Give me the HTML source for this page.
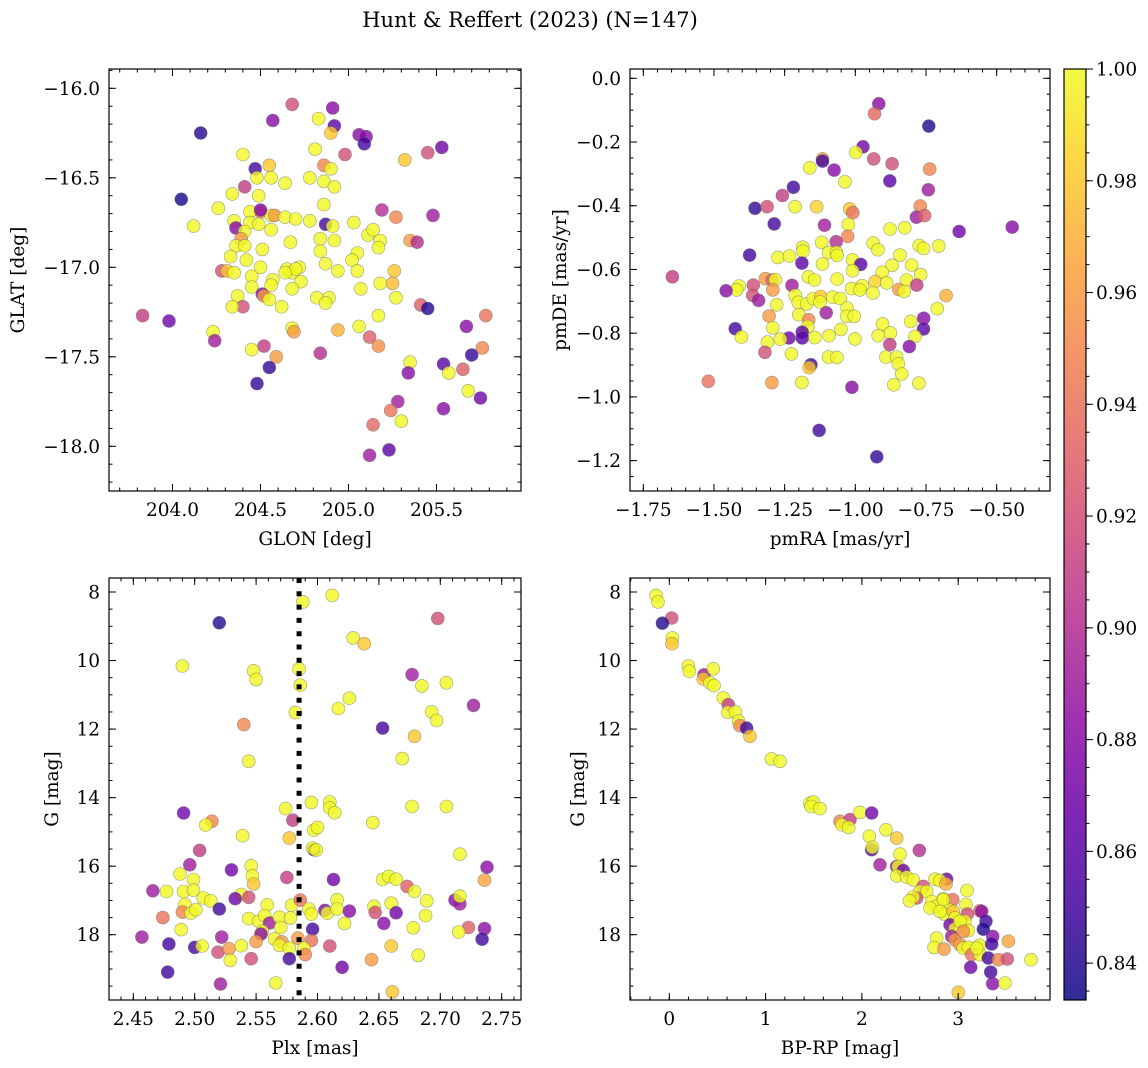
<!DOCTYPE html>
<html><head><meta charset="utf-8">
<style>
html,body{margin:0;padding:0;background:#fff;}
svg{display:block;font-family:"DejaVu Serif","Liberation Serif",serif;}
</style></head>
<body>
<svg id="fig" width="1148" height="1068" viewBox="0 0 1148 1068" xmlns="http://www.w3.org/2000/svg">
<text x="530" y="27" font-size="21" text-anchor="middle">Hunt &amp; Reffert (2023) (N=147)</text>
</svg>
<script>
// ---------- Panel 1: GLON vs GLAT ----------
const p1Lon=[204.68,204.91,204.57,204.83,204.92,204.90,204.16,205.06,205.10,205.09,205.53,205.45,204.98,205.32,204.40,204.81,204.47,204.55,204.86,204.90,204.48,204.56,204.41,204.64,204.78,204.86,204.92,204.34,204.49,204.05,204.86,204.26,204.12,204.50,204.44,204.56,204.58,204.64,204.70,204.78,204.87,204.91,205.03,204.35,204.36,204.44,204.49,204.56,204.41,204.39,204.36,204.41,204.51,204.67,204.84,204.92,205.11,205.14,205.18,205.17,205.27,205.19,205.48,205.35,205.39,204.84,204.33,204.42,205.05,205.02,204.87,204.28,204.31,204.35,204.50,204.65,204.68,204.72,204.94,205.05,205.26,204.45,204.57,204.73,204.56,204.68,204.45,205.18,205.25,205.07,204.51,204.52,204.55,204.37,204.82,204.89,204.87,205.27,204.40,204.34,204.62,205.41,205.45,203.83,203.98,205.17,205.78,205.67,204.23,204.24,204.68,204.69,204.94,205.06,205.12,205.17,204.52,204.45,204.84,204.59,205.76,205.70,205.35,205.34,205.54,205.57,205.65,204.55,204.48,205.68,205.75,205.54,205.28,205.24,205.30,205.14,205.23,205.12,204.70,204.64,204.50];
const p1Lat=[-16.09,-16.11,-16.18,-16.17,-16.21,-16.25,-16.25,-16.26,-16.27,-16.31,-16.33,-16.36,-16.37,-16.40,-16.37,-16.34,-16.45,-16.43,-16.43,-16.45,-16.50,-16.50,-16.55,-16.53,-16.50,-16.52,-16.55,-16.59,-16.60,-16.62,-16.65,-16.67,-16.77,-16.69,-16.69,-16.71,-16.71,-16.72,-16.73,-16.74,-16.76,-16.77,-16.75,-16.74,-16.78,-16.75,-16.76,-16.79,-16.80,-16.84,-16.88,-16.88,-16.90,-16.86,-16.84,-16.85,-16.82,-16.79,-16.85,-16.89,-16.72,-16.68,-16.71,-16.85,-16.86,-16.91,-16.94,-16.96,-16.92,-16.96,-16.98,-17.02,-17.02,-17.03,-17.00,-17.01,-17.03,-17.00,-17.02,-17.02,-17.02,-17.05,-17.07,-17.08,-17.10,-17.12,-17.11,-17.09,-17.09,-17.12,-17.15,-17.16,-17.18,-17.16,-17.17,-17.17,-17.20,-17.17,-17.22,-17.22,-17.22,-17.21,-17.23,-17.27,-17.30,-17.27,-17.27,-17.33,-17.36,-17.41,-17.34,-17.36,-17.35,-17.33,-17.39,-17.44,-17.44,-17.46,-17.48,-17.50,-17.45,-17.49,-17.53,-17.59,-17.54,-17.59,-17.57,-17.56,-17.65,-17.69,-17.73,-17.79,-17.75,-17.80,-17.86,-17.88,-18.02,-18.05,-17.01,-17.03,-16.68];
const p1Prob=[0.92,0.88,0.88,1.0,0.86,0.98,0.84,0.88,0.88,0.85,0.87,0.92,0.92,0.98,1.0,1.0,0.85,0.98,0.95,1.0,1.0,1.0,0.91,1.0,1.0,1.0,1.0,1.0,1.0,0.835,1.0,1.0,1.0,0.95,1.0,1.0,0.96,1.0,1.0,1.0,0.85,1.0,1.0,1.0,0.88,1.0,1.0,1.0,1.0,0.96,1.0,1.0,1.0,1.0,1.0,1.0,1.0,1.0,1.0,1.0,0.95,0.90,0.89,0.96,0.90,1.0,1.0,1.0,1.0,1.0,1.0,0.92,0.98,1.0,1.0,1.0,1.0,1.0,1.0,1.0,0.98,1.0,1.0,1.0,1.0,1.0,1.0,1.0,0.975,1.0,0.88,0.96,1.0,1.0,1.0,1.0,1.0,1.0,0.92,1.0,1.0,0.93,0.84,0.91,0.87,1.0,0.94,0.88,1.0,0.89,1.0,0.96,0.97,1.0,0.93,0.955,0.91,1.0,0.90,0.96,0.95,0.845,1.0,0.88,0.86,1.0,0.93,0.845,0.845,1.0,0.87,0.88,0.89,0.94,1.0,0.935,0.86,0.89,1.0,1.0,0.88];

// ---------- Panel 2: pmRA vs pmDE ----------
const p2Ra=[-0.917,-0.932,-0.740,-0.973,-0.998,-1.116,-1.116,-0.935,-0.870,-0.737,-1.161,-1.075,-1.037,-0.878,-0.742,-1.219,-1.258,-1.355,-1.312,-1.213,-1.137,-1.020,-1.009,-0.770,-0.784,-0.755,-1.287,-1.109,-1.025,-1.027,-0.877,-0.825,-0.633,-0.445,-1.119,-1.068,-1.186,-1.185,-0.937,-0.920,-0.774,-0.759,-0.705,-1.374,-1.274,-1.233,-1.095,-1.067,-1.064,-1.189,-1.116,-1.010,-0.981,-1.010,-0.842,-0.870,-0.801,-0.905,-0.769,-1.647,-1.318,-1.294,-1.283,-1.292,-1.166,-1.144,-1.064,-0.930,-0.889,-0.819,-0.783,-1.361,-1.411,-1.420,-1.457,-1.224,-1.363,-1.342,-1.213,-1.202,-1.172,-1.149,-1.123,-1.125,-1.080,-1.053,-1.013,-0.976,-0.984,-0.938,-0.846,-0.827,-0.679,-1.278,-0.710,-1.029,-1.031,-1.004,-1.103,-1.305,-1.200,-1.165,-1.168,-1.292,-1.051,-1.425,-1.403,-0.904,-0.876,-0.919,-0.804,-0.758,-0.759,-0.789,-1.188,-1.188,-1.235,-1.265,-1.311,-1.143,-1.093,-1.001,-0.878,-0.809,-1.320,-1.226,-1.095,-1.065,-0.892,-0.854,-0.848,-1.157,-1.163,-0.836,-1.520,-1.295,-1.189,-1.012,-0.864,-0.775,-1.128,-0.924];
const p2De=[-0.080,-0.111,-0.150,-0.215,-0.233,-0.253,-0.260,-0.253,-0.268,-0.285,-0.281,-0.288,-0.325,-0.322,-0.350,-0.342,-0.368,-0.408,-0.403,-0.403,-0.403,-0.410,-0.422,-0.401,-0.436,-0.431,-0.457,-0.461,-0.459,-0.496,-0.473,-0.469,-0.481,-0.467,-0.515,-0.513,-0.530,-0.543,-0.517,-0.538,-0.525,-0.534,-0.526,-0.555,-0.562,-0.558,-0.547,-0.546,-0.556,-0.580,-0.583,-0.570,-0.584,-0.604,-0.555,-0.587,-0.586,-0.609,-0.616,-0.623,-0.629,-0.633,-0.632,-0.664,-0.623,-0.633,-0.630,-0.638,-0.642,-0.633,-0.649,-0.649,-0.652,-0.664,-0.667,-0.650,-0.681,-0.697,-0.681,-0.703,-0.708,-0.691,-0.685,-0.702,-0.687,-0.691,-0.660,-0.651,-0.664,-0.674,-0.663,-0.669,-0.682,-0.711,-0.723,-0.721,-0.747,-0.747,-0.736,-0.746,-0.742,-0.758,-0.779,-0.783,-0.788,-0.786,-0.812,-0.771,-0.799,-0.808,-0.763,-0.753,-0.787,-0.810,-0.797,-0.815,-0.815,-0.819,-0.828,-0.814,-0.808,-0.818,-0.836,-0.842,-0.860,-0.865,-0.875,-0.876,-0.875,-0.875,-0.896,-0.899,-0.908,-0.928,-0.951,-0.955,-0.955,-0.970,-0.962,-0.957,-1.105,-1.188];
const p2Prob=[0.88,0.935,0.84,0.87,1.0,0.96,0.85,0.92,0.92,0.95,1.0,0.88,1.0,0.86,0.89,0.85,0.91,0.845,0.92,1.0,0.985,0.98,0.94,0.95,0.89,0.93,0.85,0.89,1.0,0.95,1.0,1.0,0.87,0.88,1.0,0.90,1.0,1.0,1.0,1.0,1.0,1.0,1.0,0.85,1.0,1.0,1.0,1.0,1.0,0.86,1.0,1.0,0.86,1.0,1.0,1.0,1.0,1.0,1.0,0.91,0.96,0.93,1.0,0.96,1.0,1.0,1.0,0.985,1.0,1.0,0.91,0.92,1.0,1.0,0.88,0.89,0.92,0.89,1.0,1.0,1.0,1.0,0.98,1.0,1.0,1.0,1.0,1.0,1.0,1.0,0.96,1.0,0.97,1.0,1.0,1.0,1.0,1.0,0.89,0.96,1.0,0.95,1.0,1.0,1.0,0.85,1.0,1.0,1.0,1.0,1.0,0.88,0.86,1.0,0.86,0.86,0.87,1.0,1.0,1.0,1.0,1.0,0.91,0.88,0.92,1.0,1.0,1.0,1.0,1.0,1.0,0.85,0.98,1.0,0.94,0.96,1.0,0.88,1.0,1.0,0.85,0.845];

// ---------- Panel 3: Plx vs G ----------
const p3Plx=[2.588,2.612,2.520,2.698,2.629,2.638,2.490,2.548,2.550,2.585,2.586,2.677,2.685,2.705,2.727,2.626,2.617,2.582,2.693,2.697,2.540,2.653,2.679,2.544,2.669,2.595,2.610,2.610,2.614,2.574,2.677,2.705,2.491,2.514,2.509,2.580,2.645,2.597,2.600,2.539,2.577,2.597,2.596,2.599,2.504,2.716,2.496,2.546,2.530,2.488,2.499,2.547,2.548,2.575,2.613,2.738,2.736,2.653,2.658,2.664,2.673,2.679,2.466,2.477,2.491,2.499,2.538,2.533,2.544,2.507,2.513,2.492,2.490,2.497,2.501,2.520,2.474,2.559,2.579,2.586,2.593,2.595,2.606,2.608,2.616,2.616,2.626,2.622,2.646,2.647,2.660,2.664,2.689,2.688,2.654,2.712,2.716,2.716,2.678,2.723,2.715,2.736,2.734,2.544,2.552,2.557,2.561,2.569,2.578,2.570,2.555,2.554,2.565,2.571,2.569,2.577,2.584,2.596,2.595,2.589,2.590,2.577,2.610,2.620,2.644,2.660,2.682,2.661,2.566,2.521,2.478,2.479,2.457,2.489,2.500,2.506,2.519,2.522,2.528,2.529,2.538,2.546,2.550];
const p3G=[8.29,8.10,8.90,8.77,9.34,9.51,10.16,10.30,10.55,10.25,10.72,10.41,10.74,10.65,11.31,11.10,11.40,11.52,11.50,11.75,11.87,11.97,12.21,12.94,12.86,14.14,14.13,14.30,14.44,14.32,14.26,14.26,14.45,14.69,14.80,14.66,14.73,14.95,14.87,15.11,15.18,15.52,15.47,15.53,15.54,15.65,15.96,15.99,16.11,16.23,16.39,16.28,16.52,16.33,16.39,16.03,16.41,16.39,16.30,16.38,16.59,16.74,16.72,16.74,16.74,16.70,16.83,16.95,16.91,16.93,17.01,17.12,17.34,17.37,17.27,17.25,17.50,17.13,17.14,16.99,17.25,17.40,17.29,17.37,16.98,17.25,17.31,17.67,17.17,17.35,17.08,17.36,17.01,17.44,17.67,16.99,17.10,16.88,17.80,17.79,17.92,17.82,18.13,17.53,17.61,17.44,17.66,17.49,17.51,17.79,17.90,17.98,18.12,18.21,18.31,18.39,18.10,17.84,18.17,18.39,18.58,18.70,18.33,18.95,18.73,18.33,18.60,19.67,19.41,19.44,19.09,18.27,18.07,17.85,18.37,18.33,18.51,18.07,18.41,18.75,18.32,18.70,18.20];
const p3Prob=[1.0,1.0,0.84,0.92,1.0,0.98,1.0,1.0,1.0,1.0,1.0,0.89,1.0,1.0,0.89,1.0,1.0,1.0,1.0,1.0,0.95,0.85,0.98,1.0,1.0,1.0,1.0,1.0,1.0,1.0,1.0,1.0,0.87,0.95,1.0,0.91,1.0,1.0,1.0,1.0,0.98,0.86,1.0,1.0,0.91,1.0,0.89,1.0,0.87,1.0,1.0,1.0,0.98,0.91,0.87,0.88,0.965,1.0,1.0,1.0,0.93,1.0,0.89,1.0,1.0,1.0,1.0,0.87,0.92,1.0,1.0,1.0,0.95,1.0,1.0,0.85,0.94,1.0,1.0,0.94,1.0,1.0,0.88,1.0,1.0,1.0,0.88,1.0,1.0,0.92,1.0,0.87,1.0,1.0,0.88,0.88,0.89,1.0,1.0,0.93,1.0,0.88,0.85,1.0,1.0,1.0,0.89,1.0,1.0,1.0,1.0,0.88,1.0,0.96,1.0,1.0,0.96,0.85,0.94,1.0,0.95,0.85,0.92,0.87,0.96,0.98,1.0,0.98,1.0,0.89,0.85,0.85,0.89,1.0,0.85,1.0,0.92,0.89,0.96,1.0,1.0,0.92,0.96];
const plxLine=[2.585];

// ---------- Panel 4: BP-RP vs G ----------
const p4C=[-0.138,-0.117,0.025,-0.072,0.032,0.028,0.198,0.208,0.360,0.353,0.457,0.423,0.464,0.561,0.613,0.606,0.686,0.720,0.734,0.803,0.838,1.060,1.150,1.461,1.496,1.472,1.565,1.773,1.876,1.790,1.863,1.980,2.102,2.250,2.361,2.077,2.102,2.109,2.396,2.596,2.188,2.361,2.378,2.430,2.361,2.465,2.534,2.759,2.880,2.811,2.873,2.638,2.603,2.673,3.091,2.569,2.534,2.493,2.725,2.846,2.943,3.081,3.226,3.244,2.770,2.908,2.856,2.949,3.095,3.289,3.261,2.967,3.071,2.915,2.967,3.105,3.358,2.932,2.967,2.776,2.749,2.853,3.019,3.053,3.105,3.220,3.348,3.521,3.140,3.226,3.313,3.417,3.510,3.756,3.130,3.337,3.358,3.486,3.001,2.846,2.707,2.811,3.019,3.192,3.053];
const p4G=[8.10,8.29,8.76,8.91,9.34,9.51,10.16,10.31,10.42,10.54,10.24,10.65,10.73,11.09,11.29,11.51,11.50,11.77,11.90,11.97,12.21,12.87,12.94,14.16,14.13,14.26,14.32,14.69,14.64,14.79,14.87,14.43,14.45,14.94,15.18,15.13,15.52,15.45,15.65,15.54,15.96,16.01,16.01,16.13,16.28,16.32,16.40,16.38,16.38,16.42,16.52,16.59,16.74,16.74,16.71,16.93,16.90,17.01,17.03,16.95,16.98,17.12,17.30,17.32,17.17,17.27,17.40,17.32,17.40,17.61,17.84,17.51,17.61,17.71,17.83,17.88,18.05,18.05,18.15,18.10,18.37,18.42,18.29,18.39,18.37,18.31,18.27,18.19,18.58,18.58,18.68,18.73,18.71,18.73,18.95,19.09,19.43,19.41,19.68,16.98,17.22,17.32,17.61,18.39,17.90];
const p4Prob=[1.0,1.0,0.92,0.84,1.0,0.98,1.0,1.0,0.89,0.98,1.0,1.0,1.0,1.0,0.91,1.0,1.0,1.0,0.95,0.85,0.98,1.0,1.0,1.0,1.0,1.0,1.0,0.95,0.91,1.0,1.0,1.0,0.87,1.0,0.98,1.0,0.86,1.0,1.0,0.90,0.89,0.88,1.0,0.87,1.0,1.0,1.0,1.0,0.87,1.0,0.97,0.92,1.0,1.0,1.0,0.92,1.0,1.0,1.0,1.0,0.94,1.0,0.94,0.88,1.0,1.0,1.0,0.98,0.92,0.85,0.84,1.0,1.0,0.87,1.0,1.0,0.88,0.89,0.96,1.0,1.0,0.96,0.96,1.0,1.0,1.0,0.85,0.965,0.94,1.0,0.85,0.95,0.92,1.0,0.87,0.85,0.88,1.0,0.98,1.0,1.0,1.0,1.0,1.0,0.955];

// ---------- Colorbar ----------
const cbTicks=[0.84,0.86,0.88,0.90,0.92,0.94,0.96,0.98,1.00];
const cMin=0.8334, cMax=1.0;

const FS=18.5;
const NS='http://www.w3.org/2000/svg';
const svg=document.getElementById('fig');
function mk(tag,attrs,parent){const e=document.createElementNS(NS,tag);for(const k in attrs)e.setAttribute(k,attrs[k]);(parent||svg).appendChild(e);return e;}

const plasma=[[13,8,135],[65,4,157],[106,0,168],[143,13,164],[177,42,144],[204,71,120],[225,100,98],[242,132,75],[252,166,54],[252,206,37],[240,249,33]];
function cmap(v){let t=(v-cMin)/(cMax-cMin);t=Math.max(0,Math.min(1,t));const f=t*10;const i=Math.min(9,Math.floor(f));const r=f-i;const a=plasma[i],b=plasma[i+1];return 'rgb('+a.map((c,j)=>Math.round(c+(b[j]-c)*r)).join(',')+')';}

function lin(d0,d1,r0,r1){return v=>r0+(v-d0)/(d1-d0)*(r1-r0);}

function panel(cfg){
  const {x0,x1,y0,y1,xd,yd,xt,yt,xminor,yminor,xlab,ylab,xs,ys,ps,name,xfmt,yfmt,ylabX}=cfg;
  const X=lin(xd[0],xd[1],x0,x1), Y=lin(yd[0],yd[1],y0,y1);
  const g=mk('g',{});
  
  
  const pts=mk('g',{},g);
  
  
  for(let i=0;i<xs.length;i++){
    const c=mk('circle',{cx:X(xs[i]).toFixed(1),cy:Y(ys[i]).toFixed(1),r:6.5,fill:cmap(ps[i]),'fill-opacity':0.8,stroke:'#666','stroke-opacity':0.6,'stroke-width':0.6},pts);
    
    
  }
  if(cfg.after)cfg.after(g,X,Y);
  const fr=mk('rect',{x:x0,y:y0,width:x1-x0,height:y1-y0,fill:'none',stroke:'#000','stroke-width':1.2},g);
  
  
  const tk=mk('g',{stroke:'#000','stroke-width':1},g);
  
  
  const lo=Math.min(xd[0],xd[1]),hi=Math.max(xd[0],xd[1]);
  for(let v=Math.ceil(lo/xminor)*xminor;v<=hi+1e-9;v+=xminor){const x=X(v);mk('line',{x1:x,x2:x,y1:y1,y2:y1-3.5},tk);mk('line',{x1:x,x2:x,y1:y0,y2:y0+3.5},tk);}
  const ylo=Math.min(yd[0],yd[1]),yhi=Math.max(yd[0],yd[1]);
  for(let v=Math.ceil(ylo/yminor)*yminor;v<=yhi+1e-9;v+=yminor){const y=Y(v);mk('line',{x1:x0,x2:x0+3.5,y1:y,y2:y},tk);mk('line',{x1:x1,x2:x1-3.5,y1:y,y2:y},tk);}
  xt.forEach(v=>{const x=X(v);mk('line',{x1:x,x2:x,y1:y1,y2:y1-7},tk);mk('line',{x1:x,x2:x,y1:y0,y2:y0+7},tk);
    const t=mk('text',{x:x,y:y1+25,'font-size':FS,'text-anchor':'middle'},g);t.textContent=xfmt(v);
    
    });
  yt.forEach(v=>{const y=Y(v);mk('line',{x1:x0,x2:x0+7,y1:y,y2:y},tk);mk('line',{x1:x1,x2:x1-7,y1:y,y2:y},tk);
    const t=mk('text',{x:x0-9,y:y+6.5,'font-size':FS,'text-anchor':'end'},g);t.textContent=yfmt(v);
    
    });
  const xl=mk('text',{x:(x0+x1)/2,y:y1+54,'font-size':FS,'text-anchor':'middle'},g);xl.textContent=xlab;
  
  
  const yl=mk('text',{x:ylabX,y:(y0+y1)/2,'font-size':FS,'text-anchor':'middle',transform:'rotate(-90 '+ylabX+' '+(y0+y1)/2+')'},g);yl.textContent=ylab;
  
  
}
const neg1=v=>(v<0?'\u2212':'')+Math.abs(v).toFixed(1);
panel({name:'glon-glat-panel',x0:109,x1:521,y0:69,y1:491,xd:[204+(109-172.5)/176,204+(521-172.5)/176],yd:[-16-(69-88.3)/179,-16-(491-88.3)/179],
  xt:[204.0,204.5,205.0,205.5],yt:[-16.0,-16.5,-17.0,-17.5,-18.0],xminor:0.1,yminor:0.1,xlab:'GLON [deg]',ylab:'GLAT [deg]',ylabX:24,
  xs:p1Lon,ys:p1Lat,ps:p1Prob,xfmt:v=>v.toFixed(1),yfmt:neg1});
panel({name:'pmra-pmde-panel',x0:630,x1:1050,y0:69,y1:491,xd:[-1.75+(630-643.3)/282.7,-1.75+(1050-643.3)/282.7],yd:[-(69-78.3)/318.6,-(491-78.3)/318.6],
  xt:[-1.75,-1.5,-1.25,-1.0,-0.75,-0.5],yt:[0,-0.2,-0.4,-0.6,-0.8,-1.0,-1.2],xminor:0.05,yminor:0.05,xlab:'pmRA [mas/yr]',ylab:'pmDE [mas/yr]',ylabX:566,
  xs:p2Ra,ys:p2De,ps:p2Prob,xfmt:v=>(v<0?'\u2212':'')+Math.abs(v).toFixed(2),yfmt:neg1});
panel({name:'plx-g-panel',x0:109,x1:521,y0:578,y1:1000,xd:[2.45+(109-133.3)/1228,2.45+(521-133.3)/1228],yd:[8+(578-592)/34.27,8+(1000-592)/34.27],
  xt:[2.45,2.5,2.55,2.6,2.65,2.7,2.75],yt:[8,10,12,14,16,18],xminor:0.01,yminor:0.5,xlab:'Plx [mas]',ylab:'G [mag]',ylabX:58,
  xs:p3Plx,ys:p3G,ps:p3Prob,xfmt:v=>v.toFixed(2),yfmt:v=>String(v),
  after:(g,X,Y)=>{plxLine.forEach(v=>{const l=mk('line',{x1:X(v),x2:X(v),y1:578,y2:1000,stroke:'#000','stroke-width':5,'stroke-dasharray':'5 8.3'},g);
    
    });}});
panel({name:'color-magnitude-panel',x0:630,x1:1050,y0:578,y1:1000,xd:[(630-669.3)/96.3,(1050-669.3)/96.3],yd:[8+(578-592)/34.27,8+(1000-592)/34.27],
  xt:[0,1,2,3],yt:[8,10,12,14,16,18],xminor:0.2,yminor:0.5,xlab:'BP-RP [mag]',ylab:'G [mag]',ylabX:584,
  xs:p4C,ys:p4G,ps:p4Prob,xfmt:v=>String(v),yfmt:v=>String(v)});

// colorbar
(function(){
  const cx0=1064,cx1=1086,cy0=69,cy1=1000;
  const Y=lin(cMin,cMax,cy1,cy0);
  const g=mk('g',{});
  
  
  const defs=mk('defs',{},g);
  const gr=mk('linearGradient',{id:'cbg',x1:0,y1:1,x2:0,y2:0},defs);
  for(let i=0;i<=20;i++){const v=cMin+(cMax-cMin)*i/20;mk('stop',{offset:(i/20),'stop-color':cmap(v),'stop-opacity':0.85},gr);}
  const r=mk('rect',{x:cx0,y:cy0,width:cx1-cx0,height:cy1-cy0,fill:'url(#cbg)',stroke:'#000','stroke-width':1.2},g);
  
  
  for(let v=0.835;v<=1.0001;v+=0.005){const y=Y(v);mk('line',{x1:cx1,x2:cx1+3.5,y1:y,y2:y,stroke:'#000'},g);}
  cbTicks.forEach(v=>{const y=Y(v);mk('line',{x1:cx1,x2:cx1+7,y1:y,y2:y,stroke:'#000'},g);
    const t=mk('text',{x:cx1+10,y:y+6.5,'font-size':FS},g);t.textContent=v.toFixed(2);
    
    });
})();
</script>
</body></html>
